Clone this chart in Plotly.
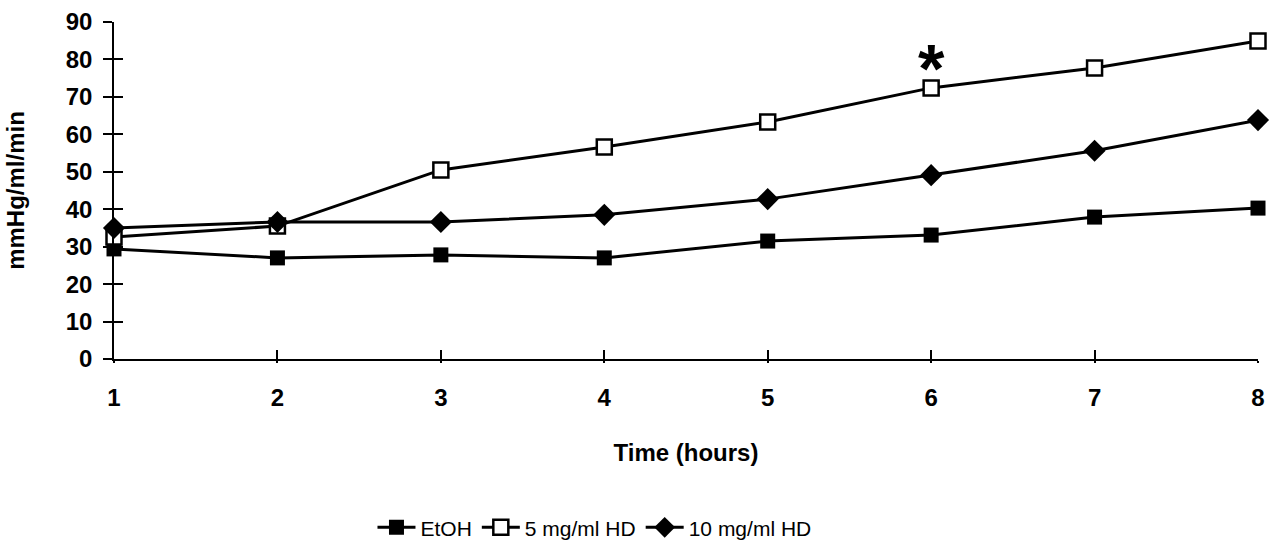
import plotly.graph_objects as go

hours = [1, 2, 3, 4, 5, 6, 7, 8]
etoh = [29.4, 27.0, 27.8, 27.0, 31.5, 33.1, 37.9, 40.3]
hd5 = [32.6, 35.5, 50.5, 56.6, 63.3, 72.4, 77.7, 84.9]
hd10 = [35.0, 36.6, 36.6, 38.5, 42.7, 49.1, 55.6, 63.8]
y_ticks = [0, 10, 20, 30, 40, 50, 60, 70, 80, 90]
sig_x = 6
sig_y = 80

fig = go.Figure()
common = dict(mode="lines+markers", line=dict(color="black", width=3), cliponaxis=False)
fig.add_trace(go.Scatter(x=hours, y=etoh, name="EtOH",
                         marker=dict(symbol="square", size=15, color="black"), **common))
fig.add_trace(go.Scatter(x=hours, y=hd5, name="5 mg/ml HD",
                         marker=dict(symbol="square", size=15, color="white",
                                     line=dict(color="black", width=2.5)), **common))
fig.add_trace(go.Scatter(x=hours, y=hd10, name="10 mg/ml HD",
                         marker=dict(symbol="diamond", size=17, color="black"), **common))

fig.add_annotation(x=sig_x, y=sig_y, text="<b>*</b>", showarrow=False,
                   font=dict(size=68, color="black", family="Liberation Sans"), yshift=-9)

font = "Liberation Sans, Arial, sans-serif"
narrow = "Liberation Sans Narrow, Arial Narrow, Liberation Sans, sans-serif"
fig.update_layout(
    width=1276, height=544,
    margin=dict(l=114, r=18, t=22, b=185),
    plot_bgcolor="white", paper_bgcolor="white",
    font=dict(family=font, color="black"),
    showlegend=True,
    legend=dict(orientation="h", x=0.42, xanchor="center", yref="container", y=0.03,
                yanchor="middle", font=dict(size=21, family=narrow), itemwidth=38,
                tracegroupgap=0),
    xaxis=dict(range=[1, 8], tickvals=hours, ticks="outside", ticklen=2, tickwidth=1.5,
               tickcolor="black", showline=True, linecolor="black", linewidth=1.5,
               showgrid=False, zeroline=False,
               tickfont=dict(size=24, family=font, weight="bold"),
               ticklabelstandoff=14, automargin=False,
               title=dict(text="<b>Time (hours)</b>", font=dict(size=24, family=font), standoff=35)),
    yaxis=dict(range=[0, 90], tickvals=y_ticks, ticks="outside", ticklen=9, tickwidth=1.5,
               tickcolor="black", showline=True, linecolor="black", linewidth=1.5,
               showgrid=False, zeroline=False,
               tickfont=dict(size=24, family=font, weight="bold"),
               ticklabelstandoff=6, automargin=False,
               title=dict(text="<b>mmHg/ml/min</b>", font=dict(size=24, family=font), standoff=34)),
    xaxis2=dict(range=[1, 8], tickvals=hours, ticks="inside", ticklen=9, tickwidth=1.5,
                tickcolor="black", overlaying="x", showticklabels=False, showgrid=False,
                zeroline=False, side="bottom", anchor="y", automargin=False),
    yaxis2=dict(range=[0, 90], tickvals=y_ticks, ticks="inside", ticklen=9, tickwidth=1.5,
                tickcolor="black", overlaying="y", showticklabels=False, showgrid=False,
                zeroline=False, side="left", anchor="x", automargin=False),
)
fig.add_trace(go.Scatter(x=[None], y=[None], xaxis="x2", yaxis="y2", showlegend=False, hoverinfo="skip"))

fig.write_html("out.html")
